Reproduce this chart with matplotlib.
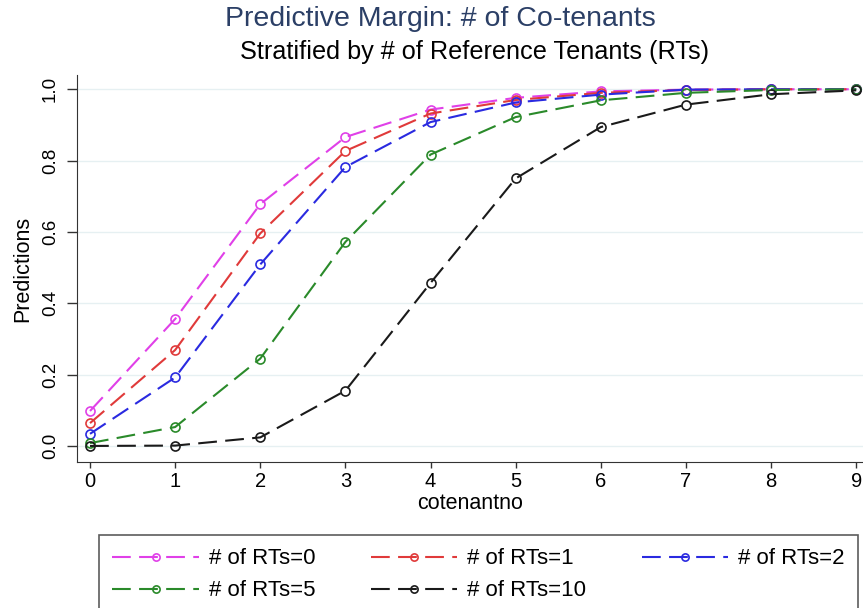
import matplotlib
matplotlib.use("Agg")
import matplotlib.pyplot as plt

plt.rcParams['font.family'] = ['Liberation Sans', 'DejaVu Sans']

cotenantno = [0, 1, 2, 3, 4, 5, 6, 7, 8, 9]

rts_0 = [0.098, 0.356, 0.678, 0.866, 0.943, 0.976, 0.994, 0.999, 1.0, 1.0]
rts_1 = [0.064, 0.269, 0.596, 0.827, 0.932, 0.970, 0.990, 0.998, 1.0, 1.0]
rts_2 = [0.034, 0.192, 0.509, 0.782, 0.908, 0.963, 0.985, 0.999, 1.0, 1.0]
rts_5 = [0.008, 0.053, 0.245, 0.572, 0.817, 0.922, 0.969, 0.990, 0.998, 1.0]
rts_10 = [0.0, 0.001, 0.024, 0.155, 0.457, 0.750, 0.894, 0.957, 0.986, 0.997]

series = [rts_0, rts_1, rts_2, rts_5, rts_10]
labels = ['# of RTs=0', '# of RTs=1', '# of RTs=2', '# of RTs=5', '# of RTs=10']
colors = ['#e040e8', '#e03a3a', '#2a2ae0', '#2a8a2a', '#1a1a1a']

fig = plt.figure(figsize=(8.63, 6.08), dpi=100)
ax = fig.add_axes([77 / 863, 1 - 462 / 608, (863 - 77) / 863, (462 - 75) / 608])

lines = []
for vals, lab, col in zip(series, labels, colors):
    ln, = ax.plot(cotenantno, vals, color=col, lw=1.5, dashes=(9, 4),
                  marker='o', ms=6.5, mfc='none', mec=col, mew=1.2, label=lab)
    lines.append(ln)

ax.set_xlim(-0.153, 9.08)
ax.set_ylim(-0.045, 1.04)
ax.set_xticks(range(0, 10))
ax.set_yticks([0, 0.2, 0.4, 0.6, 0.8, 1.0])
ax.set_yticklabels(['0.0', '0.2', '0.4', '0.6', '0.8', '1.0'], rotation=90, va='center')
ax.tick_params(axis='y', labelsize=13.5, length=7, width=1, color='#333333', pad=6)
ax.tick_params(axis='x', labelsize=14.5, length=4.5, width=1, color='#333333', pad=3)
ax.grid(axis='y', color='#e6f0f2', lw=1)
ax.set_axisbelow(True)
for s in ['top', 'right']:
    ax.spines[s].set_visible(False)
for s in ['left', 'bottom']:
    ax.spines[s].set_color('#333333')

ax.set_xlabel('cotenantno', fontsize=15.5, labelpad=1)
ax.set_ylabel('Predictions', fontsize=15.5, labelpad=6)

fig.text(440 / 863, 1 - 19 / 608, 'Predictive Margin: # of Co-tenants',
         ha='center', va='center', fontsize=20.5, color='#2b3f66')
fig.text(475 / 863, 1 - 52 / 608, 'Stratified by # of Reference Tenants (RTs)',
         ha='center', va='center', fontsize=18.2, color='black')

# row-wise order like the reference: 0 1 2 / 5 10
order = [0, 3, 1, 4, 2]
leg = fig.legend([lines[i] for i in order], [labels[i] for i in order],
                 loc='upper left', bbox_to_anchor=(99 / 863, 1 - 535 / 608, (858 - 99) / 863, 0),
                 mode='expand', ncol=3, fontsize=16, frameon=True, fancybox=False,
                 edgecolor='#333333', handlelength=3.9, handletextpad=0.45,
                 borderaxespad=0, labelspacing=0.5, borderpad=0.6, markerscale=0.8)
leg.get_frame().set_linewidth(1.2)

fig.savefig('out.png', dpi=100)
